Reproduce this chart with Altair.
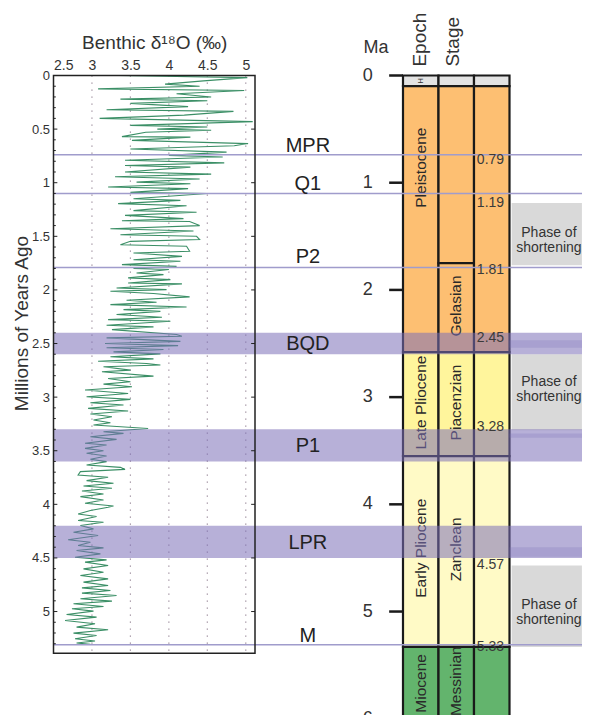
import altair as alt
import pandas as pd

# ---------------- data ----------------
# Benthic d18O record (age in Ma, value in per mil), read as alternating peaks
age = [0.00, 0.02, 0.05, 0.08, 0.10, 0.125, 0.14, 0.17, 0.20, 0.22, 0.235, 0.26, 0.29, 0.32, 0.335,
       0.37, 0.40, 0.43, 0.465, 0.48, 0.50, 0.51, 0.53, 0.57, 0.575, 0.605, 0.635, 0.655, 0.685, 0.715,
       0.745, 0.76, 0.79, 0.815, 0.84, 0.855, 0.90, 0.92, 0.945, 0.965, 0.995, 1.01, 1.04, 1.055, 1.09,
       1.10, 1.15, 1.165, 1.195, 1.215, 1.26, 1.275, 1.305, 1.335,
       1.355, 1.362, 1.40, 1.43, 1.45, 1.485, 1.50, 1.53, 1.547, 1.578, 1.593, 1.64, 1.655, 1.687, 1.718,
       1.733, 1.764, 1.78, 1.80, 1.81, 1.842, 1.857, 1.888, 1.904, 1.935, 1.944, 1.982, 1.997, 2.013,
       2.034, 2.065, 2.097, 2.115, 2.137, 2.159, 2.184, 2.20, 2.23, 2.255, 2.277, 2.292, 2.33, 2.345,
       2.37, 2.416, 2.432, 2.447, 2.48, 2.50, 2.52, 2.54, 2.556, 2.578, 2.597, 2.624, 2.643, 2.665, 2.687,
       2.70, 2.717, 2.748, 2.764, 2.804, 2.826, 2.857, 2.879, 2.903, 2.934, 2.966, 2.997, 3.021, 3.052,
       3.074, 3.105, 3.13, 3.158, 3.183, 3.214, 3.239, 3.26, 3.292, 3.323, 3.338, 3.37, 3.394, 3.43,
       3.447, 3.478, 3.50, 3.524, 3.549, 3.58, 3.602, 3.633, 3.655, 3.674, 3.695, 3.726, 3.748, 3.779,
       3.804, 3.829, 3.85, 3.875, 3.903, 3.928, 3.959, 3.99, 4.015,
       4.027, 4.058, 4.09, 4.114, 4.151, 4.167, 4.198, 4.229, 4.26, 4.291, 4.331, 4.353, 4.384, 4.406,
       4.431, 4.462, 4.493, 4.518, 4.539, 4.57, 4.602, 4.633, 4.664, 4.695, 4.726, 4.757, 4.779, 4.803,
       4.828, 4.85, 4.881, 4.903, 4.928, 4.953, 4.974, 4.996, 5.027, 5.052, 5.083, 5.114, 5.145, 5.17,
       5.201, 5.223, 5.254, 5.275, 5.294, 5.306]
d18o = [3.35, 5.02, 4.45, 3.95, 4.40, 3.08, 4.98, 4.10, 4.55, 3.37, 4.50, 3.50, 4.25, 3.19, 4.84,
        4.20, 3.10, 5.09, 3.50, 4.50, 3.85, 4.55, 3.70, 3.39, 4.28, 3.52, 5.03, 4.85, 3.50, 4.75,
        4.00, 4.70, 3.43, 4.72, 3.43, 4.28, 3.43, 4.55, 3.30, 4.40, 3.58, 4.28, 3.21, 4.25, 3.50,
        4.50, 3.54, 4.15, 3.34, 4.23, 3.54, 4.36, 3.43, 4.19,
        3.39, 4.27, 4.40, 3.24, 4.32, 3.37, 4.36, 4.40, 3.50, 3.37, 4.23, 4.27, 3.54, 4.17, 3.54,
        4.15, 3.39, 4.10, 3.54, 4.00, 3.58, 3.93, 3.47, 4.02, 3.47, 4.17, 3.32, 3.97, 3.24,
        3.80, 4.27, 3.45, 3.84, 3.24, 4.23, 3.41, 3.89, 3.32, 3.91, 3.21, 4.02, 3.19, 3.80,
        3.26, 4.10, 4.17, 3.19, 4.15, 3.17, 4.12, 3.19, 3.93, 3.28, 3.89, 3.24, 3.80, 3.08, 3.71,
        3.89, 3.15, 3.50, 3.13, 3.80, 3.21, 3.50, 3.15, 3.52, 2.91, 3.47, 2.93, 3.50, 2.98,
        3.41, 2.95, 3.47, 2.98, 3.26, 3.02, 3.24, 3.02, 3.73, 3.15, 3.41, 2.98, 3.32, 2.91,
        3.19, 2.91, 3.15, 2.93, 3.19, 2.98, 3.19, 2.93, 3.37, 3.43, 2.85, 2.82, 3.21, 2.93,
        3.28, 2.89, 3.26, 2.87, 3.15, 2.85, 3.15, 2.91, 3.28,
        3.21, 2.98, 2.82, 3.06, 2.82, 3.15, 2.85, 3.02, 2.76, 3.08, 2.69, 2.98, 2.82, 3.15,
        2.80, 3.11, 2.78, 3.19, 2.91, 3.21, 2.89, 3.15, 2.85, 3.21, 2.89, 3.21, 2.87, 3.24,
        2.87, 3.32, 2.85, 3.26, 2.76, 3.15, 2.74, 3.02, 2.67, 3.06, 2.65, 3.04, 2.80, 3.21,
        2.76, 3.06, 2.78, 3.04, 2.80, 2.98]

x_ticks = [2.5, 3, 3.5, 4, 4.5, 5]
y_ticks = [0, 0.5, 1, 1.5, 2, 2.5, 3, 3.5, 4, 4.5, 5]
record_end = 5.39

line_names = ["MPR", "Q1", "P2", "M"]
line_ma = [0.74, 1.10, 1.79, 5.31]
band_names = ["BQD", "P1", "LPR"]
band_top = [2.40, 3.30, 4.20]
band_bottom = [2.60, 3.60, 4.50]
stripe_top = [2.47, 3.34, 4.40]
stripe_bottom = [2.54, 3.38, 4.49]
label_names = ["MPR", "Q1", "P2", "BQD", "P1", "LPR", "M"]
label_ma = [0.66, 1.01, 1.69, 2.50, 3.46, 4.36, 5.23]

# geological column
epoch_bounds = [0, 0.1, 2.58, 3.55, 5.33, 6.0]
epoch_fill = ["#e3e3e3", "#fdbf72", "#fff59c", "#fffac6", "#63b46d"]
stage_bounds = [0, 0.1, 1.75, 2.58, 3.55, 5.33, 6.0]
stage_fill = ["#e3e3e3", "#fdbf72", "#fdbf72", "#fff59c", "#fffac6", "#63b46d"]
age_col_bounds = [0, 0.1, 2.58, 3.55, 5.33, 6.0]
age_col_fill = ["#e3e3e3", "#fdbf72", "#fff59c", "#fffac6", "#63b46d"]

epoch_labels = ["Pleistocene", "Late Pliocene", "Early Pliocene", "Miocene"]
epoch_label_ma = [0.86, 3.05, 4.41, 5.67]
stage_labels = ["Gelasian", "Piacenzian", "Zanclean", "Messinian"]
stage_label_ma = [2.15, 3.05, 4.42, 5.65]
boundary_ages = [0.79, 1.19, 1.81, 2.45, 3.28, 4.57, 5.33]
ma_ticks = [0, 1, 2, 3, 4, 5, 6]

phase_top = [1.19, 2.60, 4.57]
phase_bottom = [1.77, 3.31, 5.33]
phase_text_ma = [1.47, 2.86, 4.94]

# ---------------- scales ----------------
FONT = "Liberation Sans"
scA = alt.Scale(domain=[2.5, 5.12], range=[0, 201.5], nice=False, zero=False)
scB = alt.Scale(domain=[0, 3], range=[349.5, 456], nice=False, zero=False)
# visible window of the time axis (the column continues to 6 Ma below the page edge)
scY = alt.Scale(domain=[0, 5.965], reverse=True, nice=False, zero=False)

yAxis = alt.Axis(values=y_ticks, format="~g", ticks=False, domain=False, grid=False,
                 labelPadding=4, labelFontSize=13, labelColor="#333",
                 title="Millions of Years Ago", titleFontSize=19, titleFontWeight="normal",
                 titleColor="#333", titleY=247.5, titleX=-22, titleAlign="center",
                 titleBaseline="bottom", titleAngle=270)
xAxis = alt.Axis(orient="top", values=x_ticks, format="~g", ticks=False, tickSize=0, domain=False,
                 grid=False, labelFlush=True, labelPadding=3, labelFontSize=14, labelColor="#333",
                 title="Benthic δ¹⁸O (‰)", titleFontSize=19, titleFontWeight="normal",
                 titleColor="#333", titlePadding=6)


def yq(f):
    return alt.Y(f, type="quantitative", scale=scY, axis=yAxis)


def xa(f, axis=None):
    return alt.X(f, type="quantitative", scale=scA, axis=axis)


def xb(f):
    return alt.X(f, type="quantitative", scale=scB, axis=None)


# ---------------- left panel ----------------
curve_df = pd.DataFrame({"age": age, "d18o": d18o})
grid_df = pd.DataFrame({"x": x_ticks[1:], "y0": 0.0, "y1": record_end})
box_df = pd.DataFrame({"x0": [2.5], "x1": [5.12], "y0": [0.0], "y1": [record_end]})

major = [t for t in y_ticks]
minor = [round(i * 0.1, 1) for i in range(1, 54) if round(i * 0.1, 1) not in major]
tick_df = pd.DataFrame(
    [{"y": t, "x0": 2.5, "x1": 2.55} for t in major]
    + [{"y": t, "x0": 5.12, "x1": 5.07} for t in major]
    + [{"y": t, "x0": 2.5, "x1": 2.53} for t in minor]
)

grid = alt.Chart(grid_df).mark_rule(color="#9a8a9a", strokeDash=[1.3, 5.7], strokeWidth=1.2).encode(
    x=xa("x"), y=yq("y0"), y2="y1")
curve = alt.Chart(curve_df).mark_line(color="#3b8f66", strokeWidth=1.1).encode(
    x=xa("d18o", xAxis), y=yq("age"), order=alt.Order("age:Q"))
box = alt.Chart(box_df).mark_rect(fillOpacity=0, stroke="#222", strokeWidth=1.5).encode(
    x=xa("x0"), x2="x1", y=yq("y0"), y2="y1")
ticks = alt.Chart(tick_df).mark_rule(color="#222", strokeWidth=1).encode(
    x=xa("x0"), x2="x1", y=yq("y"))

# ---------------- geological column ----------------
cells = []
for col, (bounds, fills) in enumerate([(epoch_bounds, epoch_fill), (stage_bounds, stage_fill),
                                        (age_col_bounds, age_col_fill)]):
    for i, f in enumerate(fills):
        cells.append({"c0": col, "c1": col + 1, "top": bounds[i], "bottom": bounds[i + 1], "fill": f})
cells_df = pd.DataFrame(cells)
cell_layer = alt.Chart(cells_df).mark_rect(stroke="#1a1a1a", strokeWidth=2.2).encode(
    x=xb("c0"), x2="c1", y=yq("top"), y2="bottom", fill=alt.Fill("fill:N", scale=None))

col_text_df = pd.DataFrame(
    [{"c": 0.5, "ma": m, "t": t} for t, m in zip(epoch_labels, epoch_label_ma)]
    + [{"c": 1.5, "ma": m, "t": t} for t, m in zip(stage_labels, stage_label_ma)]
)
col_text = alt.Chart(col_text_df).mark_text(angle=270, fontSize=15.5, color="#2a2a2a", font=FONT,
                                            baseline="middle", align="center").encode(
    x=xb("c"), y=yq("ma"), text="t:N")
holo_df = pd.DataFrame({"c": [0.5], "ma": [0.05], "t": ["H"]})
holo_text = alt.Chart(holo_df).mark_text(angle=270, fontSize=8, color="#333", font=FONT,
                                         baseline="middle", align="center").encode(
    x=xb("c"), y=yq("ma"), text="t:N")

bnd_df = pd.DataFrame({"c": 2.08, "ma": boundary_ages, "t": [f"{v:.2f}" for v in boundary_ages]})
bnd_text = alt.Chart(bnd_df).mark_text(fontSize=14, color="#3a3a3a", font=FONT, align="left",
                                       baseline="middle").encode(
    x=xb("c"), y=yq("ma"), text="t:N")

matick_df = pd.DataFrame({"ma": ma_ticks, "c0": -0.39, "c1": 0.0, "lc": -0.85,
                          "t": [str(v) for v in ma_ticks]})
ma_ticks_layer = alt.Chart(matick_df).mark_rule(color="#1a1a1a", strokeWidth=2.5).encode(
    x=xb("c0"), x2="c1", y=yq("ma"))
ma_labels = alt.Chart(matick_df).mark_text(fontSize=18, color="#333", font=FONT, align="right",
                                           baseline="middle").encode(
    x=xb("lc"), y=yq("ma"), text="t:N")

head_df = pd.DataFrame({"c": [0.47, 1.42], "ma": [-0.083, -0.083], "t": ["Epoch", "Stage"]})
head_text = alt.Chart(head_df).mark_text(angle=270, fontSize=19, color="#333", font=FONT,
                                         align="left", baseline="middle").encode(
    x=xb("c"), y=yq("ma"), text="t:N")
ma_title_df = pd.DataFrame({"c": [-0.76], "ma": [-0.255], "t": ["Ma"]})
ma_title = alt.Chart(ma_title_df).mark_text(fontSize=18, color="#333", font=FONT, align="center",
                                            baseline="middle").encode(
    x=xb("c"), y=yq("ma"), text="t:N")

phase_df = pd.DataFrame({"c0": 3.06, "c1": 5.04, "top": phase_top, "bottom": phase_bottom})
phase_boxes = alt.Chart(phase_df).mark_rect(color="#d9d9d9").encode(
    x=xb("c0"), x2="c1", y=yq("top"), y2="bottom")
phase_tdf = pd.DataFrame({"c": 4.11, "ma": phase_text_ma, "t": "Phase of\nshortening"})
phase_text = alt.Chart(phase_tdf).mark_text(fontSize=14, lineHeight=15, lineBreak="\n", color="#333",
                                            font=FONT, align="center", baseline="middle").encode(
    x=xb("c"), y=yq("ma"), text="t:N")

# ---------------- events (lines & bands span the whole width) ----------------
band_df = pd.DataFrame({"name": band_names, "top": band_top, "bottom": band_bottom})
bands = alt.Chart(band_df).mark_rect(color="#7c70b8", opacity=0.55).encode(
    y=yq("top"), y2="bottom")
stripe_df = pd.DataFrame({"c0": 3.0, "c1": 5.04, "top": stripe_top, "bottom": stripe_bottom})
stripes = alt.Chart(stripe_df).mark_rect(color="#7c70b8", opacity=0.25).encode(
    x=xb("c0"), x2="c1", y=yq("top"), y2="bottom")
line_df = pd.DataFrame({"name": line_names, "ma": line_ma})
lines = alt.Chart(line_df).mark_rule(color="#a09ccc", strokeWidth=1.5).encode(y=yq("ma"))
lab_df = pd.DataFrame({"name": label_names, "ma": label_ma, "c": -2.68})
labels = alt.Chart(lab_df).mark_text(fontSize=20, color="#222", font=FONT, align="center",
                                     baseline="middle").encode(
    x=xb("c"), y=yq("ma"), text="name:N")

chart = alt.layer(
    grid, curve, cell_layer, phase_boxes, col_text, holo_text,
    bands, stripes, lines, box, ticks, bnd_text, phase_text,
    ma_ticks_layer, ma_labels, head_text, ma_title, labels
).resolve_scale(x="independent").properties(
    width=528.5, height=639.5,
    autosize=alt.AutoSizeParams(type="none"),
    padding={"left": 45.5, "top": 67.5, "right": 0, "bottom": 0},
    background="white",
).configure_view(strokeWidth=0).configure_axis(labelFont=FONT, titleFont=FONT).configure_text(font=FONT)

chart.save("out.html", embed_options={"renderer": "svg", "actions": False})
